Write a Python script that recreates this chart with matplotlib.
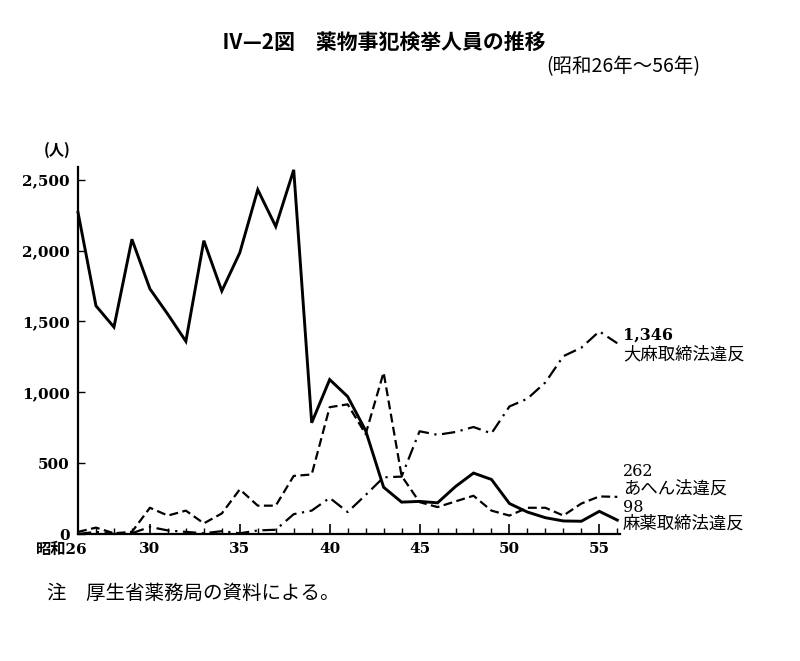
import matplotlib
matplotlib.use("Agg")
import matplotlib.pyplot as plt
from matplotlib.ticker import FuncFormatter, MultipleLocator
import matplotlib.transforms as mtransforms

plt.rcParams['font.family'] = ['DejaVu Serif', 'Noto Sans CJK JP']
plt.rcParams['axes.unicode_minus'] = False

# 昭和26年〜56年
years = list(range(26, 57))

# 麻薬取締法違反 (solid)
mayaku = [2270, 1610, 1460, 2080, 1730, 1550, 1360, 2070, 1715, 1985,
          2430, 2170, 2570, 785, 1090, 970, 730, 330, 225, 230,
          220, 335, 430, 385, 215, 155, 115, 92, 90, 160, 98]

# あへん法違反 (dashed)
ahen = [15, 45, 5, 15, 185, 130, 165, 75, 145, 315,
        200, 200, 410, 420, 895, 915, 705, 1140, 410, 225,
        190, 230, 270, 165, 130, 185, 185, 130, 215, 265, 262]

# 大麻取締法違反 (dash-dot)
taima = [0, 15, 0, 5, 50, 25, 15, 5, 20, 5,
         25, 30, 140, 165, 255, 155, 275, 400, 405, 725,
         700, 720, 755, 710, 900, 955, 1070, 1255, 1315, 1430, 1346]

xtick_pos = [26, 30, 35, 40, 45, 50, 55]
xtick_labels = ['昭和26', '30', '35', '40', '45', '50', '55']
yticks = [0, 500, 1000, 1500, 2000, 2500]

W, H = 800, 661
fig = plt.figure(figsize=(W / 100, H / 100), dpi=100)


def px(x, y):
    return x / W, 1 - y / H


ax = fig.add_axes([78 / W, 1 - 534 / H, (620 - 78) / W, (534 - 167) / H])

ax.plot(years, mayaku, color='black', lw=2.1, solid_joinstyle='miter', clip_on=False)
ax.plot(years, ahen, color='black', lw=1.6, dashes=(4, 2), clip_on=False)
ax.plot(years, taima, color='black', lw=1.6, dashes=(6, 2.5, 1, 2.5), clip_on=False)

ax.set_xlim(26, 56.15)
ax.set_ylim(0, 2590)

for side in ['top', 'right']:
    ax.spines[side].set_visible(False)
for side in ['left', 'bottom']:
    ax.spines[side].set_linewidth(1.6)

ax.set_xticks(xtick_pos)
ax.set_xticklabels(xtick_labels)
ax.xaxis.set_minor_locator(MultipleLocator(1))
ax.set_yticks(yticks)
ax.yaxis.set_major_formatter(FuncFormatter(lambda v, p: f'{int(v):,}'))

ax.tick_params(axis='x', which='major', direction='in', length=7, width=1.2, pad=6)
ax.tick_params(axis='x', which='minor', direction='in', length=4, width=1.0)
ax.tick_params(axis='y', which='major', direction='in', length=5, width=1.0, pad=6)
for lab in ax.get_xticklabels() + ax.get_yticklabels():
    lab.set_fontweight('bold')
    lab.set_fontsize(11)

# keep "26" of 昭和26 under its tick
first = ax.get_xticklabels()[0]
first.set_horizontalalignment('right')
first.set_transform(first.get_transform() + mtransforms.ScaledTranslation(10 / 100, 0, fig.dpi_scale_trans))

# unit label
fig.text(*px(57, 150), '(人)', ha='center', va='center', fontsize=11,
         family=['Noto Sans CJK JP'], fontweight='bold')

# series labels at right
fig.text(*px(623, 335), f'{taima[-1]:,}', ha='left', va='center', fontsize=11.5, fontweight='bold')
fig.text(*px(623, 354), '大麻取締法違反', ha='left', va='center', fontsize=12.5,
         family=['Noto Sans CJK JP'])
fig.text(*px(623, 472), f'{ahen[-1]:,}', ha='left', va='center', fontsize=11.5)
fig.text(*px(623, 489), 'あへん法違反', ha='left', va='center', fontsize=12.5,
         family=['Noto Sans CJK JP'])
fig.text(*px(623, 507), f'{mayaku[-1]:,}', ha='left', va='center', fontsize=11.5)
fig.text(*px(623, 524), '麻薬取締法違反', ha='left', va='center', fontsize=12.5,
         family=['Noto Sans CJK JP'])

# title
fig.text(*px(222, 42), 'Ⅳ—2図　薬物事犯検挙人員の推移', ha='left', va='center',
         fontsize=15, fontweight='bold', family=['Noto Sans CJK JP'])
fig.text(*px(700, 67), '(昭和26年〜56年)', ha='right', va='center', fontsize=14,
         family=['Noto Sans CJK JP'])

# note
fig.text(*px(47, 593), '注　厚生省薬務局の資料による。', ha='left', va='center',
         fontsize=14, family=['Noto Sans CJK JP'])

fig.savefig('out.png', dpi=100, facecolor='white')
